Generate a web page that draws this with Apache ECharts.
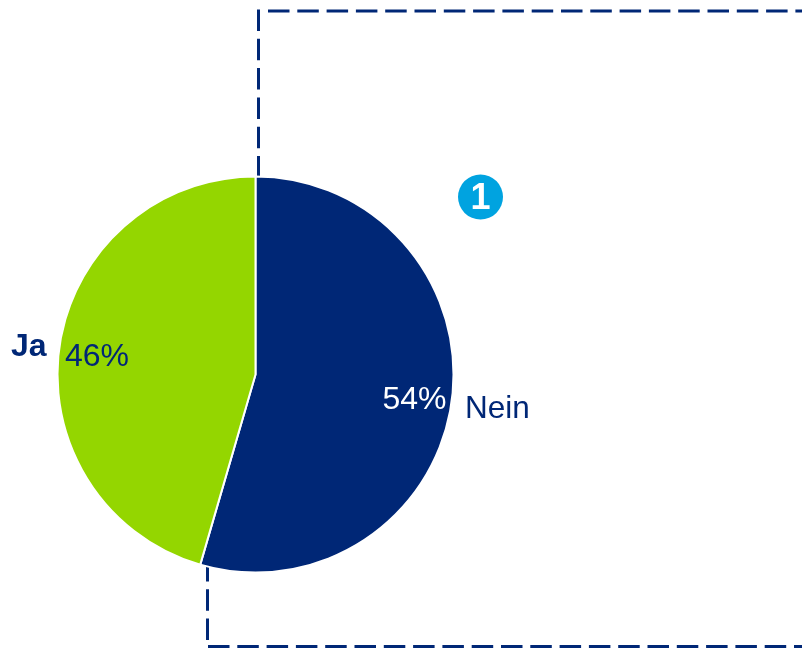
<!DOCTYPE html>
<html>
<head>
<meta charset="utf-8">
<style>
html, body { margin: 0; padding: 0; background: #fff; }
#chart { width: 802px; height: 648px; }
</style>
<script src="https://cdn.jsdelivr.net/npm/echarts@6/dist/echarts.min.js"></script>
</head>
<body>
<div id="chart"></div>
<script>
// 饼图数据 (扇区按图上量的角度，标签是图上印的取整值)
var categories = ['Nein', 'Ja'];
var values = [54.5, 45.5];
var percentLabels = ['54%', '46%'];
var colors = ['#002776', '#94D600'];
var navy = '#002776';
var font = '"Liberation Sans", Arial, sans-serif';

// 虚线段
function dashLine( points ) {
    return {
        type: 'polyline',
        z: 0,
        shape: { points: points },
        style: { fill: null, stroke: navy, lineWidth: 3, lineDash: [21.5, 7.8] }
    };
}

// 文字
function textItem( x, y, text, color, weight, align ) {
    return {
        type: 'text',
        z: 6,
        x: x,
        y: y,
        style: {
            text: text, fill: color, font: weight + font,
            align: align || 'left', verticalAlign: 'middle'
        }
    };
}

var myChart = echarts.init(document.getElementById('chart'));
var option = {
    animation: false,
    backgroundColor: '#fff',
    graphic: [
        dashLine([[258.5, 9.5], [258.5, 176]]),
        dashLine([[268, 11], [802, 11]]),
        dashLine([[207.5, 640], [207.5, 565]]),
        dashLine([[208, 646.5], [802, 646.5]]),
        // 编号圆
        {
            type: 'circle',
            z: 5,
            shape: { cx: 480.5, cy: 197, r: 22.5 },
            style: { fill: '#00A3E0' }
        },
        textItem(480.5, 199.5, '1', '#fff', 'bold 36px ', 'center'),
        textItem(11, 347, categories[1], navy, 'bold 32px '),
        textItem(465, 409, categories[0], navy, '31.5px '),
        textItem(65, 357, percentLabels[1], navy, '32px '),
        textItem(382.5, 400.5, percentLabels[0], '#fff', '32px ')
    ],
    series: [
        {
            type: 'pie',
            center: [255.5, 374.5],
            radius: [0, 198],
            startAngle: 90,
            clockwise: true,
            label: { show: false },
            labelLine: { show: false },
            itemStyle: { borderColor: '#fff', borderWidth: 2 },
            emphasis: { disabled: true },
            data: [
                { name: categories[0], value: values[0], itemStyle: { color: colors[0] } },
                { name: categories[1], value: values[1], itemStyle: { color: colors[1] } }
            ]
        }
    ]
};
myChart.setOption(option);
</script>
</body>
</html>
